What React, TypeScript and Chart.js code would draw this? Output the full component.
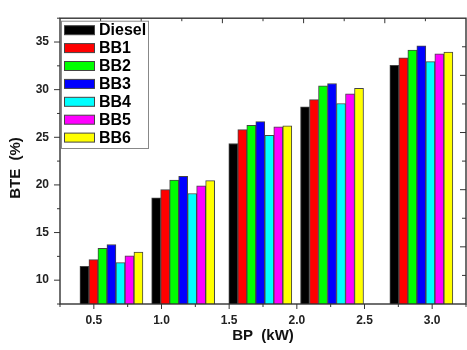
import React, { useEffect, useRef } from "react";
import { Chart, registerables } from "chart.js";

Chart.register(...registerables);

// ---- data ----
const bpValues = [0.63, 1.16, 1.73, 2.26, 2.92];
const seriesNames = ["Diesel", "BB1", "BB2", "BB3", "BB4", "BB5", "BB6"];
const diesel = [11.45, 18.65, 24.35, 28.2, 32.55];
const bb1 = [12.15, 19.5, 25.8, 28.95, 33.35];
const bb2 = [13.35, 20.5, 26.25, 30.4, 34.15];
const bb3 = [13.75, 20.9, 26.65, 30.65, 34.6];
const bb4 = [11.85, 19.1, 25.2, 28.55, 32.95];
const bb5 = [12.55, 19.9, 26.1, 29.55, 33.75];
const bb6 = [12.95, 20.45, 26.2, 30.15, 33.95];
const seriesValues = [diesel, bb1, bb2, bb3, bb4, bb5, bb6];
const seriesColors = ["#000000", "#ff0000", "#00ff00", "#0000ff", "#00ffff", "#ff00ff", "#ffff00"];
const xTickValues = [0.5, 1.0, 1.5, 2.0, 2.5, 3.0];
const yTickValues = [10, 15, 20, 25, 30, 35];
const xTitle = "BP  (kW)";
const yTitle = "BTE  (%)";

const FONT = "'Liberation Sans', Arial, sans-serif";
const AXIS = "#333333";

const decorPlugin = {
  id: "decor",
  afterDatasetsDraw(chart: any) {
    const { ctx, chartArea: a, scales } = chart;
    const xs = scales.x;
    const ys = scales.y;
    ctx.save();
    ctx.strokeStyle = AXIS;
    const line = (x1: number, y1: number, x2: number, y2: number) => {
      ctx.beginPath();
      ctx.moveTo(x1, y1);
      ctx.lineTo(x2, y2);
      ctx.stroke();
    };
    ctx.lineWidth = 1;
    // bottom ticks (outward)
    for (let k = 0; ; k++) {
      const v = xs.min + k * 0.25;
      if (v > xs.max + 1e-9) break;
      const px = xs.getPixelForValue(v);
      const major = Math.abs(v * 2 - Math.round(v * 2)) < 1e-6;
      line(px, a.bottom, px, a.bottom + (major ? 5 : 3));
    }
    // left ticks (outward)
    for (let k = 0; ; k++) {
      const v = ys.min + k * 2.5;
      if (v > ys.max + 1e-9) break;
      const py = ys.getPixelForValue(v);
      const major = Math.abs(v / 5 - Math.round(v / 5)) < 1e-6;
      line(a.left, py, a.left - (major ? 6 : 3), py);
    }
    // top mirror ticks (inward)
    const w = a.right - a.left;
    const h = a.bottom - a.top;
    for (let k = 1; k < 10; k++) {
      const px = a.left + (w * k) / 10;
      line(px, a.top, px, a.top + (k % 2 === 0 ? 5 : 3));
    }
    // right mirror ticks (inward)
    for (let k = 1; k < 10; k++) {
      const py = a.bottom - (h * k) / 10;
      line(a.right, py, a.right - (k % 2 === 0 ? 6 : 4), py);
    }
    // frame
    ctx.lineWidth = 1.4;
    ctx.strokeRect(a.left, a.top, w, h);
    ctx.restore();
  },
  afterDraw(chart: any) {
    const { ctx, chartArea: a } = chart;
    ctx.save();
    // legend box
    const lx = a.left + 1.5;
    const ly = a.top + 3;
    const lw = 87;
    const pitch = 17.9;
    const n = chart.data.datasets.length;
    const lh = 10 + pitch * n - 8;
    ctx.fillStyle = "#ffffff";
    ctx.fillRect(lx, ly, lw, lh);
    ctx.strokeStyle = "#888888";
    ctx.lineWidth = 1;
    ctx.strokeRect(lx, ly, lw, lh);
    ctx.font = `bold 16px ${FONT}`;
    ctx.textBaseline = "middle";
    ctx.textAlign = "left";
    chart.data.datasets.forEach((ds: any, i: number) => {
      const cy = ly + 9 + i * pitch;
      ctx.fillStyle = ds.backgroundColor;
      ctx.fillRect(lx + 3, cy - 4.5, 30, 9);
      ctx.strokeStyle = "#444444";
      ctx.strokeRect(lx + 3, cy - 4.5, 30, 9);
      ctx.fillStyle = "#000000";
      ctx.fillText(ds.label, lx + 37.5, cy + 0.5);
    });
    // axis titles
    ctx.fillStyle = "#111111";
    ctx.font = `bold 15px ${FONT}`;
    ctx.textAlign = "center";
    ctx.textBaseline = "middle";
    ctx.fillText(xTitle, (a.left + a.right) / 2, 336);
    ctx.translate(16, 168);
    ctx.rotate(-Math.PI / 2);
    ctx.fillText(yTitle, 0, 0);
    ctx.restore();
  },
};

export default function App() {
  const ref = useRef<HTMLCanvasElement | null>(null);
  useEffect(() => {
    if (!ref.current) return;
    const chart = new Chart(ref.current, {
      type: "bar",
      data: {
        datasets: seriesNames.map((name, s) => ({
          label: name,
          data: bpValues.map((x, i) => ({ x, y: seriesValues[s][i] })),
          backgroundColor: seriesColors[s],
          borderColor: "#444444",
          borderWidth: 1,
          barThickness: 9,
        })),
      },
      options: {
        animation: false,
        responsive: true,
        maintainAspectRatio: false,
        events: [],
        layout: { padding: { top: 14, right: 1, left: 0, bottom: 0 } },
        plugins: { legend: { display: false }, tooltip: { enabled: false } },
        scales: {
          x: {
            type: "linear",
            min: 0.25,
            max: 3.25,
            offset: false,
            grid: { display: false, drawTicks: false, offset: false },
            border: { display: false },
            afterBuildTicks: (scale: any) => {
              scale.ticks = xTickValues.map((v) => ({ value: v }));
            },
            afterFit: (scale: any) => {
              scale.height = 46;
            },
            ticks: {
              padding: 9,
              color: "#222222",
              font: { family: FONT, size: 12, weight: "bold" },
              callback: (v: any) => Number(v).toFixed(1),
              maxRotation: 0,
              autoSkip: false,
            },
          },
          y: {
            type: "linear",
            min: 7.5,
            max: 37.5,
            grid: { display: false, drawTicks: false },
            border: { display: false },
            afterBuildTicks: (scale: any) => {
              scale.ticks = yTickValues.map((v) => ({ value: v }));
            },
            afterFit: (scale: any) => {
              scale.width = 60;
            },
            ticks: {
              padding: 11,
              color: "#222222",
              font: { family: FONT, size: 12, weight: "bold" },
              callback: (v: any) => String(v),
              autoSkip: false,
            },
          },
        },
      },
      plugins: [decorPlugin],
    } as any);
    return () => chart.destroy();
  }, []);
  return (
    <div style={{ position: "absolute", left: 0, top: 0, width: 467, height: 350, background: "#fff" }}>
      <canvas ref={ref} />
    </div>
  );
}
